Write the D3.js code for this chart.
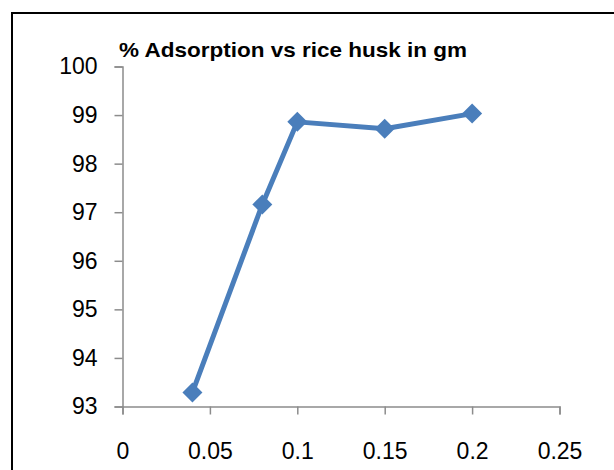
<!DOCTYPE html>
<html>
<head>
<meta charset="utf-8">
<script src="https://cdn.jsdelivr.net/npm/d3@7"></script>
<style>
  html, body { margin: 0; padding: 0; background: #fff; }
  svg { display: block; }
</style>
</head>
<body>
<script>
const xValues = [0.04, 0.08, 0.1, 0.15, 0.2];
const adsorption = [93.29, 97.16, 98.86, 98.72, 99.03];
const xTicks = [0, 0.05, 0.1, 0.15, 0.2, 0.25];
const yTicks = [93, 94, 95, 96, 97, 98, 99, 100];
const chartTitle = "% Adsorption vs rice husk in gm";

const W = 614, H = 470;
const svg = d3.select("body").append("svg").attr("width", W).attr("height", H);

// outer chart border
svg.append("rect")
  .attr("x", 12).attr("y", 13).attr("width", 604).attr("height", 500)
  .attr("fill", "#fff").attr("stroke", "#000").attr("stroke-width", 2);

const x = d3.scaleLinear().domain([0, 0.25]).range([122.5, 559.5]);
const y = d3.scaleLinear().domain([93, 100]).range([406.5, 66.5]);

const font = "'Liberation Sans', Arial, sans-serif";
const axisColor = "#8c8c8c";

// x axis
const xAxis = svg.append("g").attr("transform", `translate(0,${y(93)})`)
  .call(d3.axisBottom(x).tickValues(xTicks).tickSize(8).tickPadding(28)
    .tickFormat(d => String(+d.toFixed(2))));
xAxis.select(".domain").attr("stroke", axisColor).attr("stroke-width", 1.5);
xAxis.selectAll(".tick line").attr("stroke", axisColor).attr("stroke-width", 1.5);
xAxis.selectAll("text").attr("font-family", font).attr("font-size", 23).attr("fill", "#000");

// y axis
const yAxis = svg.append("g").attr("transform", `translate(${x(0)},0)`)
  .call(d3.axisLeft(y).tickValues(yTicks).tickSize(8).tickPadding(17).tickFormat(d3.format("d")));
yAxis.select(".domain").attr("stroke", axisColor).attr("stroke-width", 1.5);
yAxis.selectAll(".tick line").attr("stroke", axisColor).attr("stroke-width", 1.5);
yAxis.selectAll("text").attr("font-family", font).attr("font-size", 23).attr("fill", "#000");

// title
svg.append("text")
  .attr("x", 119).attr("y", 57)
  .attr("font-family", font).attr("font-weight", "bold").attr("font-size", 21)
  .attr("textLength", 348).attr("lengthAdjust", "spacingAndGlyphs")
  .attr("fill", "#000")
  .text(chartTitle);

const data = xValues.map((v, i) => ({ x: v, y: adsorption[i] }));
const color = "#4a7ebb";

svg.append("path")
  .datum(data)
  .attr("fill", "none").attr("stroke", color).attr("stroke-width", 5)
  .attr("stroke-linejoin", "round")
  .attr("d", d3.line().x(d => x(d.x)).y(d => y(d.y)));

svg.selectAll("path.marker").data(data).enter().append("path")
  .attr("class", "marker")
  .attr("transform", d => `translate(${x(d.x)},${y(d.y)})`)
  .attr("d", "M0,-10L10,0L0,10L-10,0Z")
  .attr("fill", color);
</script>
</body>
</html>
